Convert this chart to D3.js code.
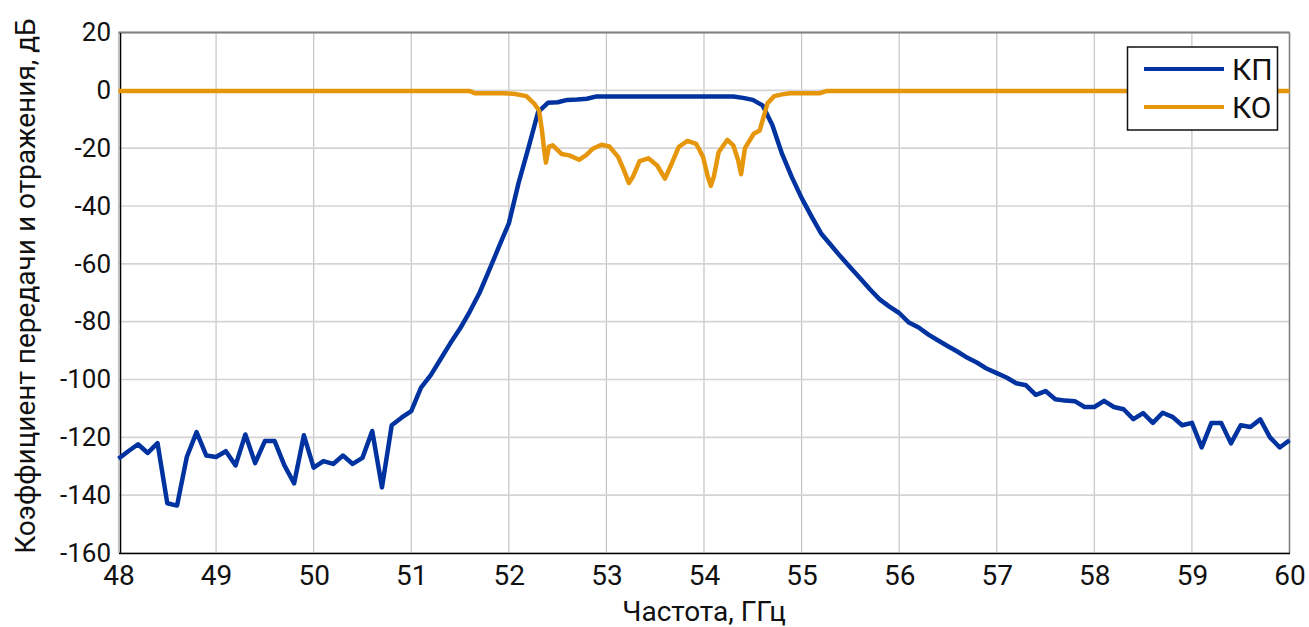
<!DOCTYPE html>
<html>
<head>
<meta charset="utf-8">
<script src="https://cdn.jsdelivr.net/npm/d3@7"></script>
<style>
  body { margin: 0; background: #fff; }
  text { font-family: Roboto, "DejaVu Sans", sans-serif; fill: #111; }
</style>
</head>
<body>
<script>
var width = 1309,
    height = 627;

// КП - коэффициент передачи, шаг 0.1 ГГц
var kpFreq = d3.range(0, 121).map(i => +(48 + i * 0.1).toFixed(1));
var kpVals = [
  -127.4, -124.8, -122.4, -125.4, -122, -142.8, -143.6, -126.8, -118.2, -126.3,
  -126.8, -124.8, -129.7, -119, -128.9, -121.3, -121.3, -129.7, -135.9, -119.3,
  -130.5, -128.2, -129.2, -126.3, -129.2, -127.1, -117.8, -137.3, -115.8, -113.2,
  -110.9, -102.8, -98.5, -93, -87.5, -82.4, -76.5, -70, -62.1, -54,
  -46, -32, -20, -7.5, -4.3, -4.1, -3.3, -3.2, -2.9, -2.1,
  -2.1, -2.1, -2.1, -2.1, -2.1, -2.1, -2.1, -2.1, -2.1, -2.1,
  -2.1, -2.1, -2.1, -2.1, -2.6, -3.3, -5.2, -12, -22, -30,
  -37.2, -43.5, -49.5, -53.5, -57.5, -61.3, -65, -68.8, -72.3, -74.8,
  -77, -80.3, -82, -84.5, -86.5, -88.5, -90.4, -92.5, -94.2, -96.3,
  -97.8, -99.3, -101.3, -102, -105.3, -104, -106.8, -107.3, -107.5, -109.5,
  -109.5, -107.4, -109.5, -110.3, -113.7, -111.6, -115, -111.5, -112.9, -115.8,
  -115, -123.5, -115, -115, -122.1, -115.8, -116.4, -113.8, -120, -123.5,
  -121
];

// КО - коэффициент отражения
var koFreq = [
  48, 51.6, 51.65, 51.93, 52.05, 52.18, 52.26, 52.31, 52.34, 52.36,
  52.38, 52.41, 52.45, 52.54, 52.62, 52.72, 52.79, 52.86, 52.95, 53.03,
  53.12, 53.18, 53.23, 53.27, 53.34, 53.43, 53.52, 53.6, 53.66, 53.74,
  53.83, 53.92, 53.99, 54.04, 54.07, 54.1, 54.15, 54.24, 54.3, 54.35,
  54.38, 54.42, 54.51, 54.57, 54.61, 54.65, 54.72, 54.8, 54.88, 55.19,
  55.26, 60
];
var koVals = [
  -0.2, -0.2, -1, -1, -1.2, -2, -4.6, -7, -14, -20,
  -25, -19.5, -19, -22, -22.5, -24, -22.5, -20.2, -18.8, -19.4,
  -23, -27.7, -32, -30, -24.5, -23.5, -26, -30.5, -26, -19.6,
  -17.5, -18.5, -23, -30, -33, -30, -21.4, -17.1, -19, -24.2,
  -29, -20, -15, -13.9, -9.3, -4.5, -2, -1.4, -1, -1,
  -0.2, -0.2
];

var xTicks = d3.range(48, 61, 1);
var yTicks = d3.range(-160, 21, 20);
var seriesNames = ["КП", "КО"];
var seriesColors = ["#0033a0", "#e6960b"];

var svg = d3.select('body')
    .append('svg')
    .attr('width', width)
    .attr('height', height);

var x = d3.scaleLinear().domain([48, 60]).range([118.5, 1289.5]);
var y = d3.scaleLinear().domain([-160, 20]).range([553, 32.5]);

// сетка
var grid = svg.append('g');
grid.selectAll('line.v')
    .data(xTicks)
    .enter()
    .append('line')
    .attr('x1', d => x(d)).attr('x2', d => x(d))
    .attr('y1', y(20)).attr('y2', y(-160))
    .attr('stroke', '#c4c4c4')
    .attr('stroke-width', 1.2);
grid.selectAll('line.h')
    .data(yTicks)
    .enter()
    .append('line')
    .attr('x1', x(48)).attr('x2', x(60))
    .attr('y1', d => y(d)).attr('y2', d => y(d))
    .attr('stroke', '#d4d4d4')
    .attr('stroke-width', 1.6);

// рамка сверху и справа
svg.append('line')
    .attr('x1', x(48)).attr('x2', x(60))
    .attr('y1', y(20)).attr('y2', y(20))
    .attr('stroke', '#808080').attr('stroke-width', 2);
svg.append('line')
    .attr('x1', x(60)).attr('x2', x(60))
    .attr('y1', y(20)).attr('y2', y(-160))
    .attr('stroke', '#808080').attr('stroke-width', 1.5);

// оси
var xAxis = d3.axisBottom(x).tickValues(xTicks).tickSize(0).tickPadding(12);
var yAxis = d3.axisLeft(y).tickValues(yTicks).tickSize(0).tickPadding(9)
    .tickFormat(d => d < 0 ? '-' + Math.abs(d) : d);

var gx = svg.append('g')
    .attr('transform', 'translate(0,' + y(-160) + ')')
    .call(xAxis);
gx.select('.domain').attr('stroke', '#000').attr('stroke-width', 1.5);
gx.selectAll('text').style('font-size', '28px').attr('fill', '#111');

var gy = svg.append('g')
    .attr('transform', 'translate(' + 120 + ',0)')
    .call(yAxis);
gy.select('.domain').attr('stroke', '#000').attr('stroke-width', 1.5);
gy.selectAll('text').style('font-size', '26px').attr('fill', '#111');

// подписи осей
svg.append('text')
    .attr('x', x(54))
    .attr('y', 621)
    .attr('text-anchor', 'middle')
    .style('font-size', '28px')
    .text('Частота, ГГц');

svg.append('text')
    .attr('transform', 'translate(35,' + 286 + ') rotate(-90)')
    .attr('text-anchor', 'middle')
    .style('font-size', '28px')
    .text('Коэффициент передачи и отражения, дБ');

// кривые
var line = d3.line()
    .x(d => x(d[0]))
    .y(d => y(d[1]));

var kpData = kpFreq.map((f, i) => [f, kpVals[i]]);
var koData = koFreq.map((f, i) => [f, koVals[i]]);

svg.append('path')
    .datum(kpData)
    .attr('fill', 'none')
    .attr('stroke', seriesColors[0])
    .attr('stroke-width', 4.5)
    .attr('stroke-linejoin', 'round')
    .attr('d', line);

svg.append('path')
    .datum(koData)
    .attr('fill', 'none')
    .attr('stroke', seriesColors[1])
    .attr('stroke-width', 4.5)
    .attr('stroke-linejoin', 'round')
    .attr('d', line);

// легенда
var lg = svg.append('g');
lg.append('rect')
    .attr('x', 1127.5).attr('y', 47)
    .attr('width', 150).attr('height', 83)
    .attr('fill', '#fff')
    .attr('stroke', '#111')
    .attr('stroke-width', 1.5);
lg.selectAll('line.lg')
    .data(seriesNames)
    .enter()
    .append('line')
    .attr('x1', 1144).attr('x2', 1224)
    .attr('y1', (d, i) => 69 + i * 38)
    .attr('y2', (d, i) => 69 + i * 38)
    .attr('stroke', (d, i) => seriesColors[i])
    .attr('stroke-width', 4);
lg.selectAll('text')
    .data(seriesNames)
    .enter()
    .append('text')
    .attr('x', 1232)
    .attr('y', (d, i) => 80 + i * 38)
    .style('font-size', '30px')
    .text(d => d);
</script>
</body>
</html>
